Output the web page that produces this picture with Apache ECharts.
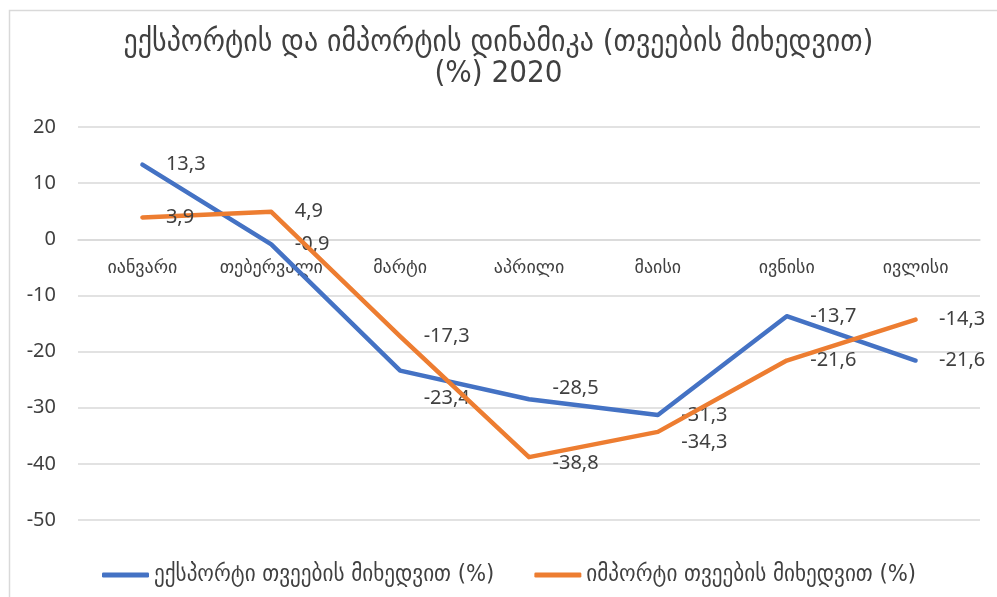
<!DOCTYPE html>
<html>
<head>
<meta charset="utf-8">
<script src="https://cdn.jsdelivr.net/npm/echarts@6/dist/echarts.min.js"></script>
<style>
html,body{margin:0;padding:0;background:#fff;}
#c{width:997px;height:597px;}
</style>
</head>
<body>
<div id="c"></div>
<script>
var titleText = 'ექსპორტის და იმპორტის დინამიკა (თვეების მიხედვით)\n(%) 2020';
var categories = ['იანვარი','თებერვალი','მარტი','აპრილი','მაისი','ივნისი','ივლისი'];
var exportName = 'ექსპორტი თვეების მიხედვით (%)';
var importName = 'იმპორტი თვეების მიხედვით (%)';
var exportValues = [13.3, -0.9, -23.4, -28.5, -31.3, -13.7, -21.6];
var importValues = [3.9, 4.9, -17.3, -38.8, -34.3, -21.6, -14.3];
var yTicks = {min: -50, max: 20, interval: 10};

// label offsets (style only), index -> [dx, dy]
var exportLabelOffsets = {2: [0, 28], 3: [0, -11]};
var importLabelOffsets = {3: [0, 6], 4: [0, 10]};

function buildData(values, offsets) {
  return values.map(function (v, i) {
    var item = {value: v};
    if (offsets[i]) item.label = {offset: offsets[i]};
    return item;
  });
}

var txt = '#404040';
var numFont = "'Noto Sans','DejaVu Sans',sans-serif";
var geoFont = "'DejaVu Sans Condensed','DejaVu Sans',sans-serif";

var gridTop = 127, gridBottom = 77, chartH = 597;
var plotH = chartH - gridTop - gridBottom;
// shift the category axis from the bottom edge up to the zero line
var zeroShift = -plotH * (0 - yTicks.min) / (yTicks.max - yTicks.min);

var chart = echarts.init(document.getElementById('c'), null, {renderer: 'canvas'});
var labelCommon = {
  show: true,
  position: 'right',
  distance: 23,
  color: txt,
  fontSize: 20,
  fontFamily: numFont,
  formatter: function (p) { return String(p.value).replace('.', ','); }
};
chart.setOption({
  animation: false,
  backgroundColor: '#fff',
  graphic: [{
    type: 'rect',
    left: 7, top: 8,
    shape: {width: 1000, height: 600},
    style: {fill: 'none', stroke: '#d9d9d9', lineWidth: 1.5},
    silent: true
  }],
  title: {
    text: titleText,
    left: 'center',
    top: 22,
    textStyle: {
      color: txt,
      fontSize: 31,
      fontWeight: 'normal',
      fontFamily: geoFont,
      lineHeight: 31
    }
  },
  legend: {
    top: 558,
    left: 97,
    icon: 'roundRect',
    itemWidth: 47,
    itemHeight: 5,
    itemGap: 40,
    textStyle: {color: txt, fontSize: 23.5, fontFamily: geoFont},
    data: [exportName, importName]
  },
  grid: {left: 78, right: 17, top: gridTop, bottom: gridBottom, containLabel: false},
  xAxis: {
    type: 'category',
    data: categories,
    boundaryGap: true,
    position: 'bottom',
    offset: zeroShift,
    axisLine: {show: true, onZero: false, lineStyle: {color: '#d9d9d9', width: 1.5}},
    axisTick: {show: false},
    axisLabel: {color: txt, fontSize: 18, fontFamily: numFont, margin: 20, interval: 0}
  },
  yAxis: {
    type: 'value',
    min: yTicks.min,
    max: yTicks.max,
    interval: yTicks.interval,
    axisLine: {show: false},
    axisTick: {show: false},
    axisLabel: {color: txt, fontSize: 20, fontFamily: numFont, margin: 22},
    splitLine: {lineStyle: {color: '#d9d9d9', width: 1.5}}
  },
  series: [{
    name: exportName,
    type: 'line',
    data: buildData(exportValues, exportLabelOffsets),
    symbol: 'circle',
    symbolSize: 1,
    showSymbol: true,
    color: '#4472C4',
    lineStyle: {width: 4.5, color: '#4472C4', cap: 'round', join: 'round'},
    itemStyle: {color: '#4472C4'},
    label: labelCommon,
    z: 2
  }, {
    name: importName,
    type: 'line',
    data: buildData(importValues, importLabelOffsets),
    symbol: 'circle',
    symbolSize: 1,
    showSymbol: true,
    color: '#ED7D31',
    lineStyle: {width: 4.5, color: '#ED7D31', cap: 'round', join: 'round'},
    itemStyle: {color: '#ED7D31'},
    label: labelCommon,
    z: 3
  }]
});
</script>
</body>
</html>
